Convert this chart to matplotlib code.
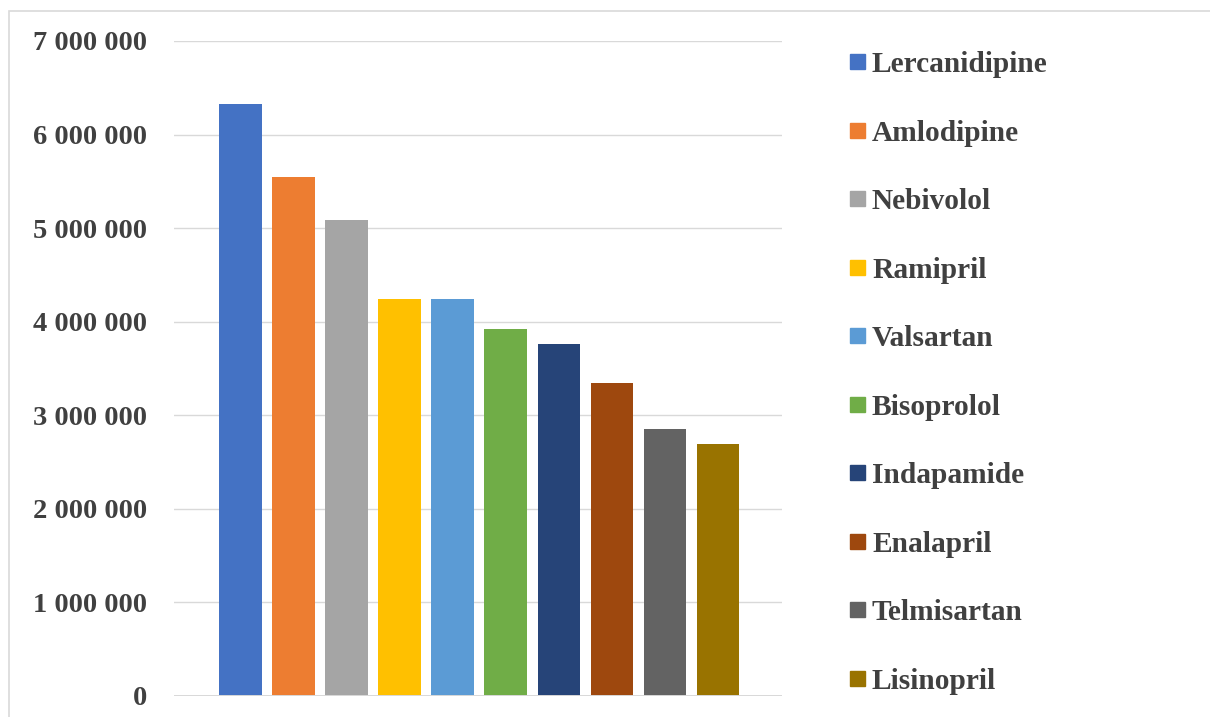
import matplotlib.pyplot as plt
from matplotlib.patches import Rectangle
from matplotlib.ticker import FuncFormatter

# Препарати та значення
drugs = ['Lercanidipine', 'Amlodipine', 'Nebivolol', 'Ramipril', 'Valsartan',
         'Bisoprolol', 'Indapamide', 'Enalapril', 'Telmisartan', 'Lisinopril']
values = [6328000, 5548000, 5088000, 4243000, 4243000,
          3922000, 3762000, 3344000, 2852000, 2692000]
colors = ['#4472C4', '#ED7D31', '#A5A5A5', '#FFC000', '#5B9BD5',
          '#70AD47', '#264478', '#9E480E', '#636363', '#997300']
yticks = [0, 1000000, 2000000, 3000000, 4000000, 5000000, 6000000, 7000000]

W, H = 1210, 717
text_color = '#404040'
grid_color = '#d9d9d9'
plt.rcParams['font.family'] = ['Liberation Serif', 'DejaVu Serif']
plt.rcParams['font.weight'] = 'bold'

fig = plt.figure(figsize=(W / 100, H / 100), dpi=100)
ax = fig.add_axes([174 / W, 1 - 695.7 / H, (782 - 174) / W, (695.7 - 41) / H])

x = list(range(len(drugs)))
ax.bar(x, values, width=0.80, color=colors, zorder=3)

ax.set_xlim(-1.251, 10.208)
ax.set_ylim(0, 7000000)
ax.set_yticks(yticks)
ax.yaxis.set_major_formatter(FuncFormatter(lambda v, p: f'{int(v):,}'.replace(',', ' ')))
ax.set_xticks([])
ax.tick_params(axis='y', length=0, pad=19.5, labelsize=20.5, labelcolor=text_color)
for lbl in ax.get_yticklabels():
    lbl.set_fontweight('bold')
ax.grid(axis='y', color=grid_color, linewidth=1.0, zorder=0)
for s in ax.spines.values():
    s.set_visible(False)
# нижня лінія поверх стовпців
ax.axhline(0, color=grid_color, linewidth=1.4, zorder=4)

# Легенда
for i, (name, c) in enumerate(zip(drugs, colors)):
    yc = 61.7 + i * 68.5
    fig.add_artist(Rectangle((850 / W, 1 - (yc + 7.5) / H), 15 / W, 15 / H,
                             transform=fig.transFigure, color=c))
    fig.text(872 / W, 1 - yc / H, name, fontsize=21.2, fontweight='bold',
             color=text_color, va='center_baseline', ha='left')

# Рамка діаграми
fig.add_artist(Rectangle((9 / W, -0.05), 1.1, 1 - 11 / H + 0.05,
                         transform=fig.transFigure, fill=False,
                         edgecolor=grid_color, linewidth=1.2, clip_on=False))

fig.savefig('out.png', dpi=100)
